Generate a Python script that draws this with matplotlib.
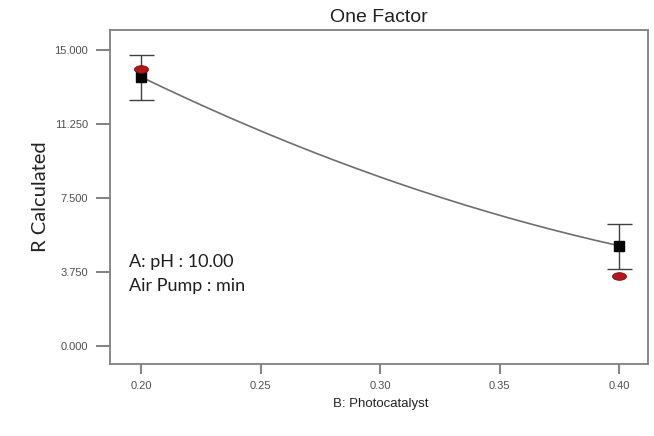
import matplotlib
matplotlib.use("Agg")
import matplotlib.pyplot as plt
import numpy as np
from matplotlib.path import Path
from matplotlib.transforms import Affine2D

# model response read along B at the design levels and in between
b_curve = [0.20, 0.25, 0.30, 0.35, 0.40]
r_curve = [13.62, 10.90, 8.55, 6.60, 5.07]

# design points: predicted value with its interval, and the actual runs
b_design = [0.20, 0.40]
r_pred = [13.62, 5.07]
r_low = [12.46, 3.89]
r_high = [14.76, 6.18]
r_actual = [14.01, 3.52]

yticks = [0.0, 3.75, 7.5, 11.25, 15.0]
xticks = [0.20, 0.25, 0.30, 0.35, 0.40]

fig = plt.figure(figsize=(6.54, 4.36), dpi=100)
ax = fig.add_axes([0.1682, 0.165, 0.8226, 0.766])

# smooth quadratic through the read response values
coef = np.polyfit(b_curve, r_curve, 2)
bb = np.linspace(min(b_curve), max(b_curve), 200)
ax.plot(bb, np.polyval(coef, bb), color="#6e6e6e", lw=1.2, zorder=2)

yerr = [np.array(r_pred) - np.array(r_low), np.array(r_high) - np.array(r_pred)]
ax.errorbar(b_design, r_pred, yerr=yerr, fmt="none", ecolor="#404040",
            elinewidth=1.0, capsize=9, capthick=1.0, zorder=3)
ax.plot(b_design, r_pred, ls="none", marker="s", ms=7.5, color="black", zorder=4)

# flattened ellipse for the actual runs
oval = Path.unit_circle().transformed(Affine2D().scale(1.0, 0.55))
ax.plot(b_design, r_actual, ls="none", marker=oval, ms=10,
        markerfacecolor="#b3161b", markeredgecolor="#7a0d10", markeredgewidth=0.6,
        zorder=5)

ax.set_xlim(0.187, 0.412)
ax.set_ylim(-0.93, 16.0)
ax.set_xticks(xticks)
ax.set_xticklabels(["%.2f" % x for x in xticks])
ax.set_yticks(yticks)
ax.set_yticklabels(["%.3f" % y for y in yticks])

for side in ax.spines.values():
    side.set_color("#808080")
    side.set_linewidth(1.3)
ax.tick_params(axis="both", colors="#606060", labelcolor="#505050",
               labelsize=8, width=1.1, direction="out")
ax.tick_params(axis="y", length=10, pad=6)
ax.tick_params(axis="x", length=7, pad=5)
for lab in ax.get_xticklabels() + ax.get_yticklabels():
    lab.set_family("Liberation Sans")

ax.set_title("One Factor", family="Liberation Sans", fontsize=14,
             color="#222222", pad=6)
fig.text(0.509, 0.073, "B: Photocatalyst", family="Liberation Sans",
         fontsize=9.5, color="#222222", ha="left", va="center")
fig.text(0.062, 0.55, "R Calculated", family="Lato", fontsize=14.5,
         color="#222222", rotation=90, ha="center", va="center")

ax.text(0.036, 0.33, "A: pH : 10.00\nAir Pump : min", transform=ax.transAxes,
        family="Lato", fontsize=13, color="#1e1e1e", linespacing=1.6,
        ha="left", va="top")

fig.savefig("out.png", dpi=100)
